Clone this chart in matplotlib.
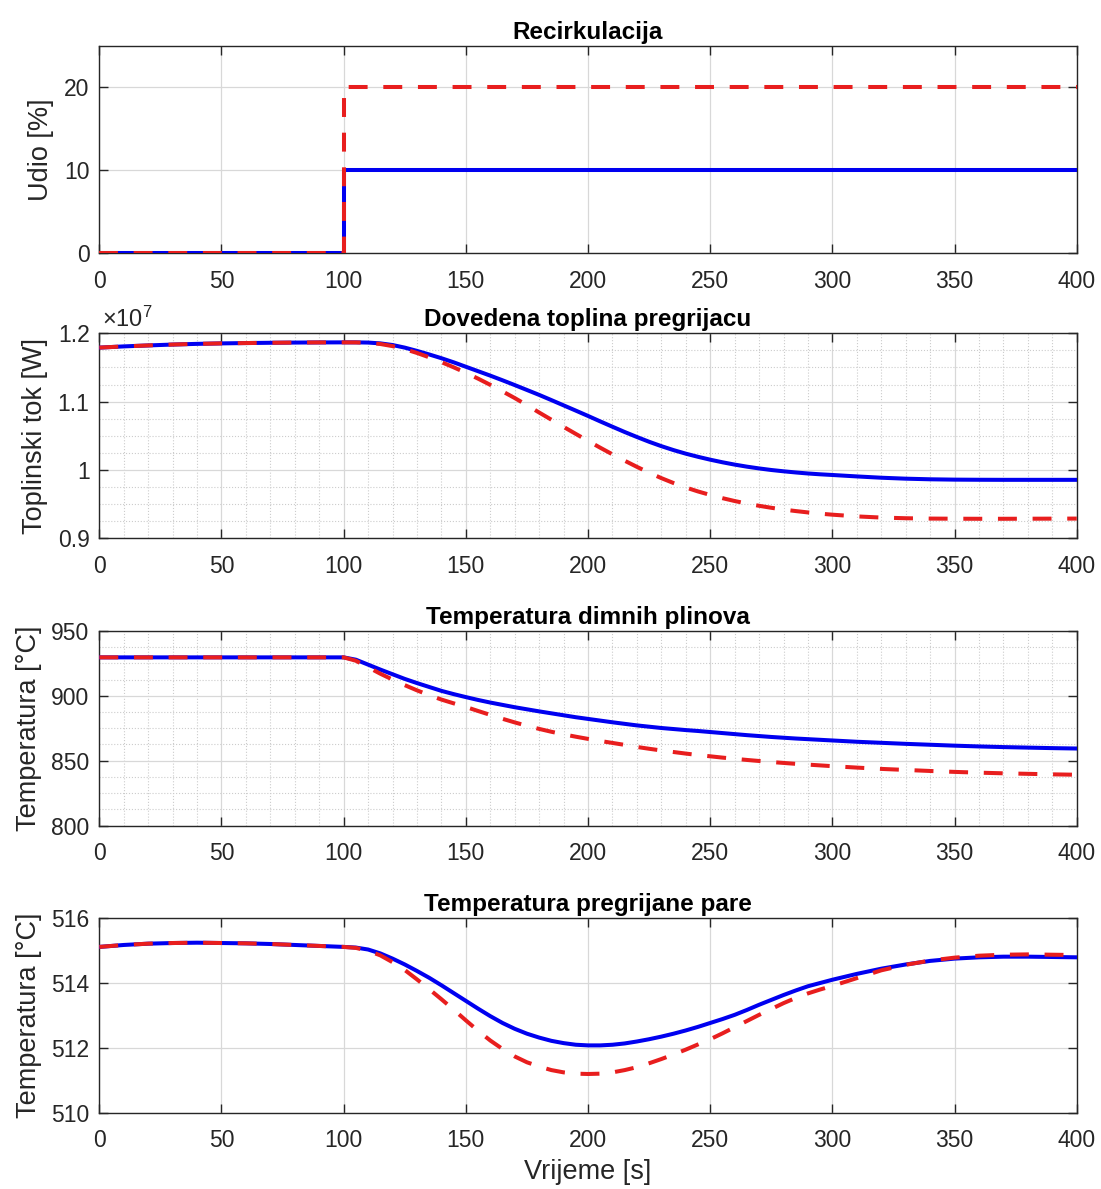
import matplotlib
matplotlib.use('Agg')
import matplotlib.pyplot as plt
from matplotlib.ticker import MultipleLocator, FormatStrFormatter

plt.rcParams['font.family'] = ['Liberation Sans', 'DejaVu Sans']
plt.rcParams['mathtext.fontset'] = 'custom'
plt.rcParams['mathtext.rm'] = 'Liberation Sans'

### Data

# recirculation share [%] - step at t = 100 s
t_rec = [0, 100, 100, 400]
rec_blue = [0, 0, 10, 10]
rec_red = [0, 0, 20, 20]

# common time axis for the other three panels [s]
t = [0, 10, 20, 30, 40, 50, 60, 70, 80, 90, 100,
     105, 110, 115, 120, 125, 130, 135, 140, 145, 150,
     155, 160, 165, 170, 175, 180, 185, 190, 195, 200,
     205, 210, 215, 220, 225, 230, 235, 240, 245, 250,
     255, 260, 265, 270, 275, 280, 285, 290, 295, 300,
     310, 320, 330, 340, 350, 360, 370, 380, 390, 400]

# heat to superheater [x 1e7 W]
heat_blue = [1.1790, 1.1808, 1.1822, 1.1835, 1.1845, 1.1852, 1.1857, 1.1861, 1.1864, 1.1866, 1.1867,
             1.1867, 1.1864, 1.1852, 1.1828, 1.1790, 1.1742, 1.1690, 1.1635, 1.1575, 1.1510,
             1.1445, 1.1380, 1.1312, 1.1242, 1.1170, 1.1098, 1.1022, 1.0945, 1.0868, 1.0790,
             1.0710, 1.0632, 1.0555, 1.0482, 1.0412, 1.0348, 1.0290, 1.0238, 1.0192, 1.0150,
             1.0112, 1.0078, 1.0048, 1.0022, 0.9999, 0.9980, 0.9963, 0.9948, 0.9936, 0.9926,
             0.9905, 0.9886, 0.9872, 0.9863, 0.9858, 0.9856, 0.9855, 0.9855, 0.9855, 0.9855]
heat_red = [1.1790, 1.1808, 1.1822, 1.1835, 1.1845, 1.1852, 1.1857, 1.1861, 1.1864, 1.1866, 1.1867,
            1.1866, 1.1860, 1.1843, 1.1812, 1.1768, 1.1712, 1.1648, 1.1578, 1.1502, 1.1422,
            1.1336, 1.1245, 1.1150, 1.1052, 1.0948, 1.0840, 1.0735, 1.0630, 1.0527, 1.0425,
            1.0325, 1.0228, 1.0135, 1.0045, 0.9960, 0.9880, 0.9808, 0.9743, 0.9685, 0.9634,
            0.9587, 0.9545, 0.9508, 0.9475, 0.9446, 0.9420, 0.9398, 0.9378, 0.9360, 0.9345,
            0.9320, 0.9303, 0.9293, 0.9288, 0.9286, 0.9285, 0.9285, 0.9286, 0.9287, 0.9288]

# flue gas temperature [degC]
gas_blue = [929.6, 929.6, 929.6, 929.6, 929.6, 929.6, 929.6, 929.6, 929.6, 929.6, 929.6,
            927.8, 924.0, 920.2, 916.6, 913.0, 909.8, 906.8, 903.8, 901.3, 899.0,
            896.8, 894.8, 893.0, 891.2, 889.6, 888.0, 886.5, 885.0, 883.5, 882.2,
            880.9, 879.6, 878.4, 877.2, 876.2, 875.2, 874.4, 873.6, 872.9, 872.1,
            871.3, 870.5, 869.7, 869.0, 868.3, 867.7, 867.1, 866.6, 866.1, 865.6,
            864.6, 863.8, 863.0, 862.3, 861.6, 861.0, 860.5, 860.1, 859.7, 859.4]
gas_red = [929.6, 929.6, 929.6, 929.6, 929.6, 929.6, 929.6, 929.6, 929.6, 929.6, 929.6,
           927.0, 922.0, 917.0, 912.5, 908.2, 904.2, 900.5, 897.1, 894.2, 891.4,
           888.3, 885.3, 882.3, 879.5, 876.9, 874.5, 872.3, 870.3, 868.5, 866.8,
           865.2, 863.7, 862.2, 860.6, 859.2, 857.9, 856.7, 855.5, 854.4, 853.4,
           852.4, 851.5, 850.6, 849.8, 849.0, 848.3, 847.6, 847.0, 846.4, 845.8,
           844.7, 843.7, 842.9, 842.1, 841.4, 840.8, 840.3, 839.9, 839.5, 839.2]

# superheated steam temperature [degC]
steam_blue = [515.10, 515.16, 515.20, 515.22, 515.23, 515.22, 515.21, 515.19, 515.16, 515.13, 515.10,
              515.08, 515.02, 514.90, 514.74, 514.56, 514.36, 514.15, 513.92, 513.68, 513.44,
              513.20, 512.97, 512.76, 512.58, 512.43, 512.31, 512.21, 512.14, 512.09, 512.07,
              512.07, 512.09, 512.13, 512.19, 512.26, 512.34, 512.43, 512.53, 512.64, 512.76,
              512.88, 513.01, 513.16, 513.32, 513.47, 513.62, 513.76, 513.89, 513.99, 514.09,
              514.27, 514.43, 514.56, 514.67, 514.74, 514.78, 514.80, 514.80, 514.79, 514.78]
steam_red = [515.10, 515.16, 515.20, 515.22, 515.23, 515.22, 515.21, 515.19, 515.16, 515.13, 515.10,
             515.07, 514.98, 514.84, 514.63, 514.39, 514.10, 513.80, 513.49, 513.17, 512.84,
             512.52, 512.22, 511.96, 511.73, 511.55, 511.42, 511.31, 511.24, 511.20, 511.19,
             511.20, 511.24, 511.31, 511.40, 511.52, 511.65, 511.79, 511.94, 512.10, 512.26,
             512.44, 512.63, 512.82, 513.01, 513.19, 513.37, 513.53, 513.67, 513.79, 513.90,
             514.14, 514.38, 514.55, 514.68, 514.77, 514.83, 514.86, 514.87, 514.86, 514.85]

titles = ['Recirkulacija', 'Dovedena toplina pregrijacu',
          'Temperatura dimnih plinova', 'Temperatura pregrijane pare']
ylabels = ['Udio [%]', 'Toplinski tok [W]', 'Temperatura [°C]', 'Temperatura [°C]']

BLUE = '#0000f0'
RED = '#e81e1e'
AXC = '#262626'

fig = plt.figure(figsize=(11.01, 11.89), dpi=100)

boxes = [[0.0902, 0.7870, 0.8878, 0.1743],
         [0.0902, 0.5473, 0.8878, 0.1724],
         [0.0902, 0.3056, 0.8878, 0.1638],
         [0.0902, 0.0642, 0.8878, 0.1640]]
axs = [fig.add_axes(b) for b in boxes]

series = [(t_rec, rec_blue, rec_red),
          (t, heat_blue, heat_red),
          (t, gas_blue, gas_red),
          (t, steam_blue, steam_red)]
ylims = [(0, 25), (0.9, 1.2), (800, 950), (510, 516)]
ysteps = [10, 0.1, 50, 2]
minor = [False, True, True, False]

for i, ax in enumerate(axs):
    x, yb, yr = series[i]
    ax.plot(x, yb, '-', color=BLUE, lw=2.9, zorder=3)
    ax.plot(x, yr, '--', color=RED, lw=2.9, dashes=(4.7, 3.9), zorder=4)

    ax.set_xlim(0, 400)
    ax.set_ylim(*ylims[i])
    ax.xaxis.set_major_locator(MultipleLocator(50))
    ax.yaxis.set_major_locator(MultipleLocator(ysteps[i]))
    ax.yaxis.set_major_formatter(FormatStrFormatter('%g'))

    ax.grid(True, which='major', color='#d8d8d8', lw=0.9, ls='-')
    if minor[i]:
        ax.xaxis.set_minor_locator(MultipleLocator(10))
        ax.yaxis.set_minor_locator(MultipleLocator(ysteps[i] / 4))
        ax.grid(True, which='minor', color='#cccccc', lw=0.8, ls=':')
    ax.set_axisbelow(True)

    ax.tick_params(which='major', direction='in', top=True, right=True,
                   length=6.5, width=1.0, color=AXC, labelcolor=AXC,
                   labelsize=16.5)
    ax.tick_params(axis='x', pad=12)
    ax.tick_params(axis='y', pad=7)
    ax.tick_params(which='minor', length=0)
    for sp in ax.spines.values():
        sp.set_color(AXC)
        sp.set_linewidth(1.0)

    ax.set_title(titles[i], fontsize=17.5, fontweight='bold', pad=5)
    ax.set_ylabel(ylabels[i], fontsize=19.5, color=AXC, labelpad=7)

# exponent label for the heat panel
axs[1].text(0.003, 1.008, r'$\times\mathregular{10^{7}}$', transform=axs[1].transAxes,
            ha='left', va='bottom', fontsize=17, color=AXC)

axs[3].set_xlabel('Vrijeme [s]', fontsize=19.5, color=AXC, labelpad=5)

plt.savefig('out.png', dpi=100)
